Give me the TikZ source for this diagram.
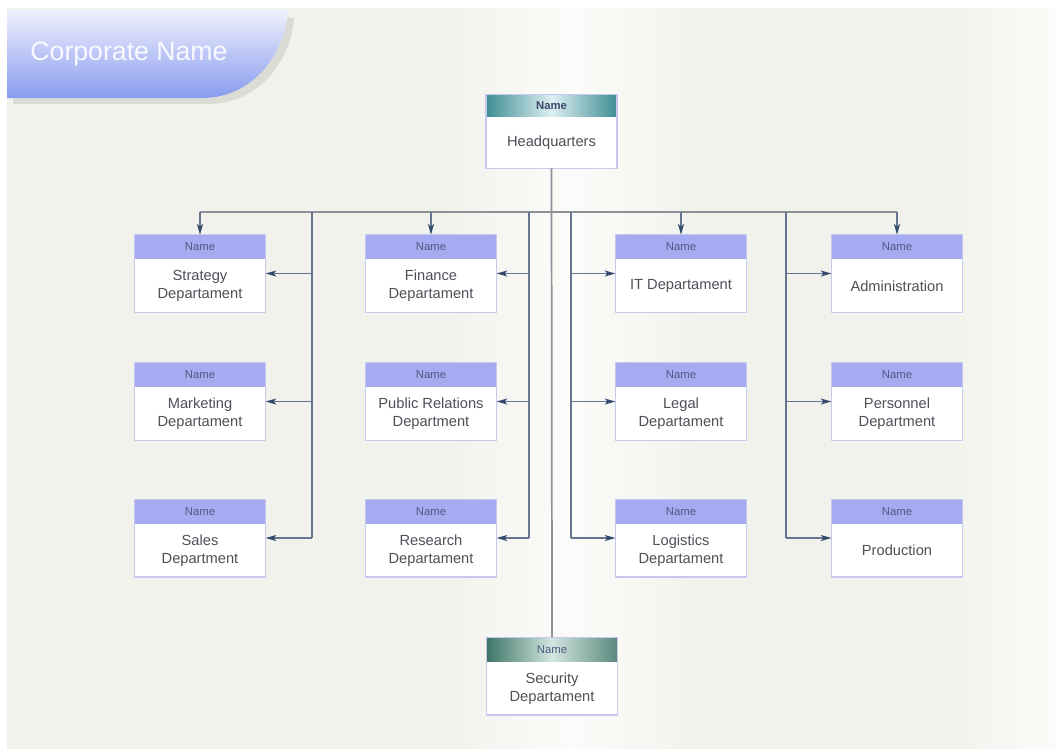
\documentclass[tikz,border=0pt]{standalone}
\usepackage{fontspec}
\setmainfont{Liberation Sans}
\usetikzlibrary{arrows.meta,calc}
\definecolor{bgA}{HTML}{F2F2ED}
\definecolor{bgB}{HTML}{FBFBF9}
\definecolor{bannerTop}{HTML}{F0F1FD}
\definecolor{bannerBot}{HTML}{889CEF}
\definecolor{shadowC}{HTML}{DCDCD7}
\definecolor{hdrC}{HTML}{A4ABF1}
\definecolor{borderC}{HTML}{C6C8F0}
\definecolor{nameC}{HTML}{4E5A84}
\definecolor{bodyC}{HTML}{4C5057}
\definecolor{hqDark}{HTML}{3E8E94}
\definecolor{hqLight}{HTML}{DDEFF2}
\definecolor{secDark}{HTML}{3D7566}
\definecolor{secLight}{HTML}{D2E6E0}
\definecolor{grayLine}{HTML}{8D9095}
\definecolor{blueLine}{HTML}{66758F}
\definecolor{tipC}{HTML}{34496E}
\pgfdeclarehorizontalshading{bgshade}{100bp}{color(0bp)=(bgA); color(25bp)=(bgA); color(46bp)=(bgA); color(52bp)=(bgB); color(58bp)=(bgA); color(70bp)=(bgA); color(75bp)=(bgB); color(100bp)=(bgB)}
\newcommand\deptbox[6][]{%
  \node[box,#1] (#2) at (#3,#4) {};
  \node[#5, anchor=north] (#2h) at (#2.north) {Name};
  \node[bodytxt] (#2t) at ($(#2h.south)!0.5!(#2.south)$) {#6};
  \draw[boxline] (#2.north west) rectangle (#2.south east);
}
\begin{document}
\begin{tikzpicture}[x=0.75pt,y=-0.75pt,
  box/.style={rectangle, minimum width=98pt, minimum height=57.75pt, inner sep=0pt, fill=white},
  hqbox/.style={minimum height=55pt},
  hdr/.style={rectangle, minimum width=98pt, minimum height=18pt, inner sep=0pt, fill=hdrC,
     text=nameC, font=\fontsize{8.5}{10}\selectfont},
  hqhdr/.style={rectangle, minimum width=98pt, minimum height=16.5pt, inner sep=0pt,
     left color=hqDark, right color=hqDark, middle color=hqLight,
     text=nameC!80!black, font=\fontsize{8.5}{10}\selectfont\bfseries},
  sechdr/.style={rectangle, minimum width=98pt, minimum height=18pt, inner sep=0pt,
     left color=secDark, right color=secDark!85!white, middle color=secLight,
     text=nameC, font=\fontsize{8.5}{10}\selectfont},
  bodytxt/.style={align=center, text=bodyC, inner sep=0pt, font=\fontsize{11}{13.5}\selectfont},
  boxline/.style={draw=borderC, line width=1.1pt},
  gline/.style={draw=grayLine, line width=1.3pt},
  bline/.style={draw=blueLine, line width=1.1pt},
  arr/.style={draw=blueLine, line width=1.1pt, -{Stealth[length=8pt,width=4.5pt,inset=2pt,color=tipC,fill=tipC]}},
  title/.style={text=white, opacity=0.9, font=\fontsize{20}{24}\selectfont, inner sep=0pt}
]
\useasboundingbox (0,0) rectangle (1056,749);
\fill[white] (0,0) rectangle (1056,749);
\shade[shading=bgshade] (7,9) rectangle (1056,749);

% banner
\fill[shadowC] (13,18) -- (294,18) .. controls (291,62) and (258,104) .. (208,104) -- (13,104) -- cycle;
\shade[top color=bannerTop, bottom color=bannerBot] (7,10) -- (288,10) .. controls (285,55) and (252,98) .. (202,98) -- (7,98) -- cycle;
\node[title] (ttl) at (129,54) {Corporate Name};

% boxes
\deptbox[hqbox]{hq}{551.5}{131.5}{hqhdr}{Headquarters}
\deptbox{sec}{552}{676}{sechdr}{Security\\Departament}

\deptbox{strat}{200}{273.5}{hdr}{Strategy\\Departament}
\deptbox{mkt}{200}{401.5}{hdr}{Marketing\\Departament}
\deptbox{sales}{200}{538}{hdr}{Sales\\Department}

\deptbox{fin}{431}{273.5}{hdr}{Finance\\Departament}
\deptbox{pr}{431}{401.5}{hdr}{Public Relations\\Department}
\deptbox{res}{431}{538}{hdr}{Research\\Departament}

\deptbox{it}{681}{273.5}{hdr}{IT Departament}
\deptbox{legal}{681}{401.5}{hdr}{Legal\\Departament}
\deptbox{log}{681}{538}{hdr}{Logistics\\Departament}

\deptbox{adm}{897}{273.5}{hdr}{Administration}
\deptbox{pers}{897}{401.5}{hdr}{Personnel\\Department}
\deptbox{prod}{897}{538}{hdr}{Production}

% connectors
\coordinate (bus) at (0,212);
\coordinate (b1) at (312,212);
\coordinate (b2) at (529,212);
\coordinate (b3) at (571,212);
\coordinate (b4) at (786,212);

\draw[gline] (strat.north |- bus) -- (adm.north |- bus);
\draw[gline] (hq.south) -- (sec.north);
\foreach \n in {strat,fin,it,adm} \draw[arr] (\n.north |- bus) -- (\n.north);

\draw[bline] (b1) -- (b1 |- sales);
\draw[bline] (b2) -- (b2 |- res);
\draw[bline] (b3) -- (b3 |- log);
\draw[bline] (b4) -- (b4 |- prod);
\foreach \n in {strat,mkt,sales} \draw[arr] (b1 |- \n) -- (\n.east);
\foreach \n in {fin,pr,res} \draw[arr] (b2 |- \n) -- (\n.east);
\foreach \n in {it,legal,log} \draw[arr] (b3 |- \n) -- (\n.west);
\foreach \n in {adm,pers,prod} \draw[arr] (b4 |- \n) -- (\n.west);
\end{tikzpicture}
\end{document}
